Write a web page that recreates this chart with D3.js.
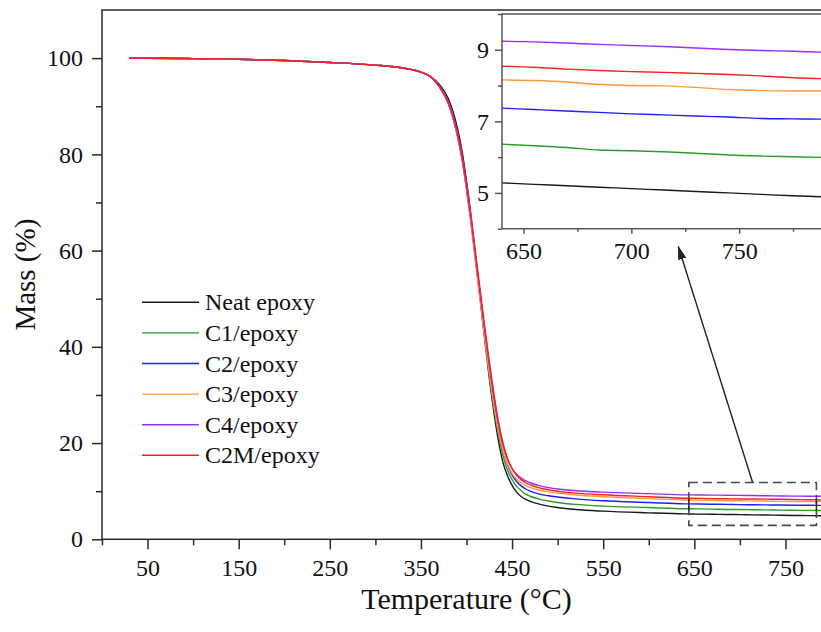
<!DOCTYPE html>
<html>
<head>
<meta charset="utf-8">
<script src="https://cdn.jsdelivr.net/npm/d3@7"></script>
<style>
  html, body { margin: 0; padding: 0; background: #fff; }
  svg { display: block; }
  text { font-family: "Liberation Serif", "Times New Roman", serif; fill: #111; }
</style>
</head>
<body>
<svg id="chart" width="821" height="632"></svg>
<script>
// ---- data ----
const temps = [30, 50, 100, 150, 200, 250, 300, 325, 340, 350, 360,
  370, 380, 385, 390, 395, 400, 405, 410, 415, 420, 425, 430, 435, 440, 445,
  450, 455, 460, 465, 470, 480, 490, 500, 520, 550, 600,
  640, 655, 670, 685, 700, 715, 730, 745, 760, 775, 790, 800];

const commonStart = [100, 99.98, 99.9, 99.75, 99.5, 99.1, 98.55, 98.1, 97.6, 97.1, 96.2];

const neatEpoxy = commonStart.concat(
  [94.6, 91.6, 89.0, 85.5, 80.8, 74.5, 67.0, 58.5, 50.0, 41.5, 33.5, 26.5, 20.5, 16.0, 13.2,
   11.2, 9.8, 8.9, 8.3, 7.9, 7.3, 6.9, 6.6, 6.2, 5.85, 5.5],
  [5.28, 5.24, 5.20, 5.16, 5.12, 5.08, 5.04, 5.00, 4.96, 4.92, 4.89, 4.87]);
const c1Epoxy = commonStart.concat(
  [94.3, 90.8, 88.0, 84.2, 79.5, 73.2, 66.0, 58.0, 50.0, 42.0, 34.5, 27.5, 21.8, 17.4, 14.4,
   12.4, 11.0, 10.1, 9.4, 8.95, 8.35, 7.95, 7.65, 7.25, 6.9, 6.6],
  [6.36, 6.32, 6.27, 6.20, 6.18, 6.15, 6.11, 6.06, 6.03, 6.01, 5.99, 5.98]);
const c2Epoxy = commonStart.concat(
  [94.1, 90.5, 87.6, 83.8, 79.0, 72.8, 65.8, 58.0, 50.3, 42.8, 35.5, 28.8, 23.0, 18.6, 15.5,
   13.4, 12.0, 11.1, 10.45, 10.0, 9.4, 9.05, 8.8, 8.4, 8.0, 7.65],
  [7.37, 7.33, 7.29, 7.25, 7.21, 7.18, 7.15, 7.12, 7.08, 7.07, 7.06, 7.05]);
const c3Epoxy = commonStart.concat(
  [94.2, 90.7, 87.8, 84.0, 79.2, 72.8, 65.5, 57.5, 49.5, 41.8, 34.5, 28.0, 22.6, 18.5, 15.6,
   13.7, 12.5, 11.7, 11.15, 10.75, 10.2, 9.85, 9.6, 9.2, 8.85, 8.45],
  [8.16, 8.14, 8.10, 8.03, 8.00, 7.99, 7.95, 7.89, 7.86, 7.85, 7.85, 7.84]);
const c4Epoxy = commonStart.concat(
  [94.2, 90.8, 88.0, 84.3, 79.6, 73.5, 66.5, 58.8, 51.0, 43.5, 36.3, 29.8, 24.2, 19.8, 16.7,
   14.7, 13.5, 12.7, 12.15, 11.75, 11.15, 10.75, 10.45, 10.1, 9.8, 9.5],
  [9.24, 9.22, 9.19, 9.15, 9.12, 9.09, 9.05, 9.01, 8.98, 8.96, 8.93, 8.92]);
const c2mEpoxy = commonStart.concat(
  [94.3, 91.0, 88.3, 84.7, 80.0, 74.0, 67.2, 59.5, 51.8, 44.3, 37.0, 30.3, 24.5, 20.0, 16.8,
   14.7, 13.3, 12.4, 11.75, 11.3, 10.7, 10.3, 10.0, 9.6, 9.25, 8.85],
  [8.54, 8.51, 8.46, 8.42, 8.39, 8.37, 8.34, 8.31, 8.27, 8.22, 8.19, 8.17]);

const seriesNames = ["Neat epoxy", "C1/epoxy", "C2/epoxy", "C3/epoxy", "C4/epoxy", "C2M/epoxy"];
const seriesValues = [neatEpoxy, c1Epoxy, c2Epoxy, c3Epoxy, c4Epoxy, c2mEpoxy];
const seriesColors = ["#1a1a1a", "#2b9b2b", "#1f1fff", "#ff9a3a", "#9a2cff", "#ff1f1f"];

const xMajorTicks = [50, 150, 250, 350, 450, 550, 650, 750];
const xMinorTicks = [0, 100, 200, 300, 400, 500, 600, 700, 800];
const yMajorTicks = [0, 20, 40, 60, 80, 100];
const yMinorTicks = [10, 30, 50, 70, 90];
const insetXMajor = [650, 700, 750];
const insetXMinor = [675, 725, 775];
const insetYMajor = [5, 7, 9];
const insetYMinor = [4, 6, 8, 10];

// ---- layout ----
const svg = d3.select("#chart");
const x = d3.scaleLinear().domain([0, 800]).range([102, 831]);
const y = d3.scaleLinear().domain([0, 110]).range([539.3, 10]);
const ix = d3.scaleLinear().domain([640, 790]).range([502, 825.4]);
const iy = d3.scaleLinear().domain([4, 10]).range([228.7, 14]);

const axisColor = "#2a2a2a";

function styleAxis(g, color, width) {
  g.select(".domain").remove();
  g.selectAll(".tick line").attr("stroke", color).attr("stroke-width", width);
  g.selectAll("text").attr("fill", "#111");
}

// main frame
svg.append("rect")
  .attr("x", x(0)).attr("y", y(110))
  .attr("width", x(800) - x(0)).attr("height", y(0) - y(110))
  .attr("fill", "none").attr("stroke", axisColor).attr("stroke-width", 1.5);

// main axes
const gx = svg.append("g").attr("transform", `translate(0,${y(0)})`);
gx.call(d3.axisBottom(x).tickValues(xMajorTicks).tickSize(10).tickPadding(10).tickFormat(d3.format("d")))
  .call(g => styleAxis(g, axisColor, 1.5))
  .selectAll("text").attr("font-size", 24).attr("font-family", '"Liberation Serif", serif');
svg.append("g").attr("transform", `translate(0,${y(0)})`)
  .call(d3.axisBottom(x).tickValues(xMinorTicks).tickSize(6).tickFormat(""))
  .call(g => styleAxis(g, axisColor, 1.5));

const gy = svg.append("g").attr("transform", `translate(${x(0)},0)`);
gy.call(d3.axisLeft(y).tickValues(yMajorTicks).tickSize(10).tickPadding(9).tickFormat(d3.format("d")))
  .call(g => styleAxis(g, axisColor, 1.5))
  .selectAll("text").attr("font-size", 24).attr("font-family", '"Liberation Serif", serif');
svg.append("g").attr("transform", `translate(${x(0)},0)`)
  .call(d3.axisLeft(y).tickValues(yMinorTicks).tickSize(6).tickFormat(""))
  .call(g => styleAxis(g, axisColor, 1.5));

// axis titles
svg.append("text")
  .attr("x", (x(0) + x(800)) / 2).attr("y", 609)
  .attr("text-anchor", "middle").attr("font-size", 30)
  .text("Temperature (°C)");
svg.append("text")
  .attr("transform", `translate(35,${(y(0) + y(110)) / 2}) rotate(-90)`)
  .attr("text-anchor", "middle").attr("font-size", 29)
  .text("Mass (%)");

// main curves
const line = d3.line()
  .x((d, i) => x(temps[i]))
  .y(d => y(d))
  .curve(d3.curveMonotoneX);

svg.append("g").selectAll("path")
  .data(seriesValues)
  .join("path")
  .attr("d", d => line(d))
  .attr("fill", "none")
  .attr("stroke", (d, i) => seriesColors[i])
  .attr("stroke-width", 1.4);

// dashed zoom box
const boxX0 = 644, boxX1 = 784, boxY0 = 2.9, boxY1 = 11.8;
svg.append("rect")
  .attr("x", x(boxX0)).attr("y", y(boxY1))
  .attr("width", x(boxX1) - x(boxX0)).attr("height", y(boxY0) - y(boxY1))
  .attr("fill", "none").attr("stroke", "#4a4a4a").attr("stroke-width", 1.6)
  .attr("stroke-dasharray", "9,5");
[boxX0, boxX1].forEach(t => {
  svg.append("line")
    .attr("x1", x(t)).attr("x2", x(t))
    .attr("y1", y(8.4)).attr("y2", y(6.0))
    .attr("stroke", "#222").attr("stroke-width", 1.4);
});

// arrow
svg.append("defs").append("marker")
  .attr("id", "arrowhead")
  .attr("viewBox", "0 -5 14 10")
  .attr("refX", 13).attr("refY", 0)
  .attr("markerUnits", "userSpaceOnUse")
  .attr("markerWidth", 14).attr("markerHeight", 10)
  .attr("orient", "auto")
  .append("path").attr("d", "M0,-4.2L14,0L0,4.2Z").attr("fill", "#222");
svg.append("line")
  .attr("x1", x(714)).attr("y1", y(boxY1))
  .attr("x2", 678.3).attr("y2", 246.5)
  .attr("stroke", "#222").attr("stroke-width", 1.4)
  .attr("marker-end", "url(#arrowhead)");

// ---- inset ----
const inset = svg.append("g");
inset.append("clipPath").attr("id", "insetClip")
  .append("rect").attr("x", ix(640)).attr("y", iy(10))
  .attr("width", ix(790) - ix(640)).attr("height", iy(4) - iy(10));
inset.append("rect")
  .attr("x", ix(640)).attr("y", iy(10))
  .attr("width", ix(790) - ix(640)).attr("height", iy(4) - iy(10))
  .attr("fill", "#fff");

const iline = d3.line()
  .defined((d, i) => temps[i] >= 630)
  .x((d, i) => ix(temps[i]))
  .y(d => iy(d))
  .curve(d3.curveMonotoneX);
inset.append("g").attr("clip-path", "url(#insetClip)")
  .selectAll("path").data(seriesValues).join("path")
  .attr("d", d => iline(d))
  .attr("fill", "none")
  .attr("stroke", (d, i) => seriesColors[i])
  .attr("stroke-width", 1.4);

const insetColor = "#555";
inset.append("rect")
  .attr("x", ix(640)).attr("y", iy(10))
  .attr("width", ix(790) - ix(640)).attr("height", iy(4) - iy(10))
  .attr("fill", "none").attr("stroke", insetColor).attr("stroke-width", 1.5);

inset.append("g").attr("transform", `translate(0,${iy(4)})`)
  .call(d3.axisBottom(ix).tickValues(insetXMajor).tickSize(5).tickPadding(8).tickFormat(d3.format("d")))
  .call(g => styleAxis(g, insetColor, 1.5))
  .selectAll("text").attr("font-size", 24).attr("font-family", '"Liberation Serif", serif');
inset.append("g").attr("transform", `translate(0,${iy(4)})`)
  .call(d3.axisBottom(ix).tickValues(insetXMinor).tickSize(3).tickFormat(""))
  .call(g => styleAxis(g, insetColor, 1.5));
inset.append("g").attr("transform", `translate(${ix(640)},0)`)
  .call(d3.axisLeft(iy).tickValues(insetYMajor).tickSize(7).tickPadding(6).tickFormat(d3.format("d")))
  .call(g => styleAxis(g, insetColor, 1.5))
  .selectAll("text").attr("font-size", 24).attr("font-family", '"Liberation Serif", serif');
inset.append("g").attr("transform", `translate(${ix(640)},0)`)
  .call(d3.axisLeft(iy).tickValues(insetYMinor).tickSize(4).tickFormat(""))
  .call(g => styleAxis(g, insetColor, 1.5));

// ---- legend ----
const legend = svg.append("g");
seriesNames.forEach((name, i) => {
  const ly = 302.3 + i * 30.6;
  legend.append("line")
    .attr("x1", 142).attr("x2", 199).attr("y1", ly).attr("y2", ly)
    .attr("stroke", seriesColors[i]).attr("stroke-width", 1.4);
  legend.append("text")
    .attr("x", 205).attr("y", ly + 8)
    .attr("font-size", 24)
    .text(name);
});
</script>
</body>
</html>
